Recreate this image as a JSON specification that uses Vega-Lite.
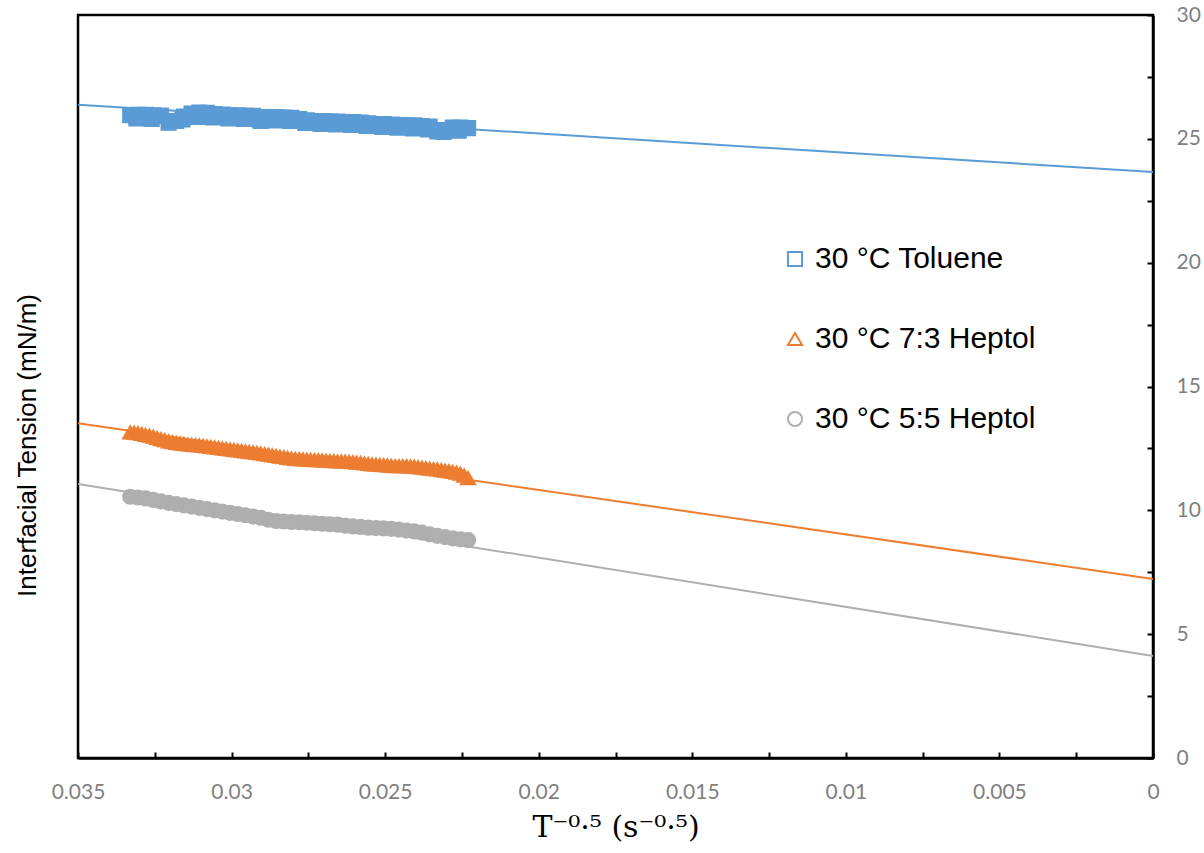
{
  "$schema": "https://vega.github.io/schema/vega-lite/v6.json",
  "width": 1075,
  "height": 743,
  "autosize": "none",
  "padding": {"left": 78, "top": 15, "right": 51, "bottom": 95},
  "background": "white",
  "config": {
    "view": {"stroke": "black", "strokeWidth": 2.5},
    "axis": {"grid": false, "domainColor": "black", "domainWidth": 2.5, "tickColor": "black", "tickWidth": 2, "tickSize": -6, "labelColor": "#7f7f7f", "labelFont": "Lato", "labelFontSize": 21, "labelPadding": 29, "labelFlush": false, "labelOverlap": false},
    "legend": {"labelLimit": 400}
  },
  "datasets": {
    "fits": [
      {"x": 0.035, "y": 26.38, "series": "30 °C Toluene"},
      {"x": 0, "y": 23.66, "series": "30 °C Toluene"},
      {"x": 0.035, "y": 13.52, "series": "30 °C 7:3 Heptol"},
      {"x": 0, "y": 7.23, "series": "30 °C 7:3 Heptol"},
      {"x": 0.035, "y": 11.06, "series": "30 °C 5:5 Heptol"},
      {"x": 0, "y": 4.12, "series": "30 °C 5:5 Heptol"}
    ],
    "points": [
      {"x": 0.0333, "y": 25.96, "series": "30 °C Toluene"},
      {"x": 0.03305, "y": 25.97, "series": "30 °C Toluene"},
      {"x": 0.0328, "y": 25.97, "series": "30 °C Toluene"},
      {"x": 0.03255, "y": 25.95, "series": "30 °C Toluene"},
      {"x": 0.0323, "y": 25.94, "series": "30 °C Toluene"},
      {"x": 0.03205, "y": 25.65, "series": "30 °C Toluene"},
      {"x": 0.0318, "y": 25.72, "series": "30 °C Toluene"},
      {"x": 0.03155, "y": 25.9, "series": "30 °C Toluene"},
      {"x": 0.0313, "y": 26.02, "series": "30 °C Toluene"},
      {"x": 0.03105, "y": 26.06, "series": "30 °C Toluene"},
      {"x": 0.0308, "y": 26.05, "series": "30 °C Toluene"},
      {"x": 0.03055, "y": 26.0, "series": "30 °C Toluene"},
      {"x": 0.0303, "y": 25.98, "series": "30 °C Toluene"},
      {"x": 0.03005, "y": 25.95, "series": "30 °C Toluene"},
      {"x": 0.0298, "y": 25.95, "series": "30 °C Toluene"},
      {"x": 0.02955, "y": 25.93, "series": "30 °C Toluene"},
      {"x": 0.0293, "y": 25.93, "series": "30 °C Toluene"},
      {"x": 0.02905, "y": 25.72, "series": "30 °C Toluene"},
      {"x": 0.0288, "y": 25.88, "series": "30 °C Toluene"},
      {"x": 0.02855, "y": 25.88, "series": "30 °C Toluene"},
      {"x": 0.0283, "y": 25.86, "series": "30 °C Toluene"},
      {"x": 0.02805, "y": 25.85, "series": "30 °C Toluene"},
      {"x": 0.0278, "y": 25.8, "series": "30 °C Toluene"},
      {"x": 0.02755, "y": 25.75, "series": "30 °C Toluene"},
      {"x": 0.0273, "y": 25.72, "series": "30 °C Toluene"},
      {"x": 0.02705, "y": 25.72, "series": "30 °C Toluene"},
      {"x": 0.0268, "y": 25.7, "series": "30 °C Toluene"},
      {"x": 0.02655, "y": 25.7, "series": "30 °C Toluene"},
      {"x": 0.0263, "y": 25.68, "series": "30 °C Toluene"},
      {"x": 0.02605, "y": 25.68, "series": "30 °C Toluene"},
      {"x": 0.0258, "y": 25.66, "series": "30 °C Toluene"},
      {"x": 0.02555, "y": 25.63, "series": "30 °C Toluene"},
      {"x": 0.0253, "y": 25.6, "series": "30 °C Toluene"},
      {"x": 0.02505, "y": 25.6, "series": "30 °C Toluene"},
      {"x": 0.0248, "y": 25.58, "series": "30 °C Toluene"},
      {"x": 0.02455, "y": 25.56, "series": "30 °C Toluene"},
      {"x": 0.0243, "y": 25.55, "series": "30 °C Toluene"},
      {"x": 0.02405, "y": 25.55, "series": "30 °C Toluene"},
      {"x": 0.0238, "y": 25.52, "series": "30 °C Toluene"},
      {"x": 0.02355, "y": 25.5, "series": "30 °C Toluene"},
      {"x": 0.0233, "y": 25.3, "series": "30 °C Toluene"},
      {"x": 0.02305, "y": 25.35, "series": "30 °C Toluene"},
      {"x": 0.0228, "y": 25.45, "series": "30 °C Toluene"},
      {"x": 0.02255, "y": 25.45, "series": "30 °C Toluene"},
      {"x": 0.0223, "y": 25.43, "series": "30 °C Toluene"},
      {"x": 0.0331, "y": 25.82, "series": "30 °C Toluene"},
      {"x": 0.0326, "y": 25.8, "series": "30 °C Toluene"},
      {"x": 0.0316, "y": 25.78, "series": "30 °C Toluene"},
      {"x": 0.0311, "y": 25.88, "series": "30 °C Toluene"},
      {"x": 0.0306, "y": 25.86, "series": "30 °C Toluene"},
      {"x": 0.0301, "y": 25.82, "series": "30 °C Toluene"},
      {"x": 0.0296, "y": 25.8, "series": "30 °C Toluene"},
      {"x": 0.0291, "y": 25.78, "series": "30 °C Toluene"},
      {"x": 0.0286, "y": 25.74, "series": "30 °C Toluene"},
      {"x": 0.0281, "y": 25.72, "series": "30 °C Toluene"},
      {"x": 0.0276, "y": 25.64, "series": "30 °C Toluene"},
      {"x": 0.0271, "y": 25.6, "series": "30 °C Toluene"},
      {"x": 0.0266, "y": 25.58, "series": "30 °C Toluene"},
      {"x": 0.0261, "y": 25.56, "series": "30 °C Toluene"},
      {"x": 0.0256, "y": 25.52, "series": "30 °C Toluene"},
      {"x": 0.0251, "y": 25.48, "series": "30 °C Toluene"},
      {"x": 0.0246, "y": 25.45, "series": "30 °C Toluene"},
      {"x": 0.0241, "y": 25.42, "series": "30 °C Toluene"},
      {"x": 0.0236, "y": 25.38, "series": "30 °C Toluene"},
      {"x": 0.0231, "y": 25.28, "series": "30 °C Toluene"},
      {"x": 0.0226, "y": 25.33, "series": "30 °C Toluene"},
      {"x": 0.0333, "y": 13.15, "series": "30 °C 7:3 Heptol"},
      {"x": 0.033175, "y": 13.14, "series": "30 °C 7:3 Heptol"},
      {"x": 0.03305, "y": 13.12, "series": "30 °C 7:3 Heptol"},
      {"x": 0.032925, "y": 13.09, "series": "30 °C 7:3 Heptol"},
      {"x": 0.0328, "y": 13.05, "series": "30 °C 7:3 Heptol"},
      {"x": 0.032675, "y": 13.02, "series": "30 °C 7:3 Heptol"},
      {"x": 0.03255, "y": 12.98, "series": "30 °C 7:3 Heptol"},
      {"x": 0.032425, "y": 12.93, "series": "30 °C 7:3 Heptol"},
      {"x": 0.0323, "y": 12.88, "series": "30 °C 7:3 Heptol"},
      {"x": 0.032175, "y": 12.83, "series": "30 °C 7:3 Heptol"},
      {"x": 0.03205, "y": 12.78, "series": "30 °C 7:3 Heptol"},
      {"x": 0.031925, "y": 12.75, "series": "30 °C 7:3 Heptol"},
      {"x": 0.0318, "y": 12.72, "series": "30 °C 7:3 Heptol"},
      {"x": 0.031675, "y": 12.7, "series": "30 °C 7:3 Heptol"},
      {"x": 0.03155, "y": 12.68, "series": "30 °C 7:3 Heptol"},
      {"x": 0.031425, "y": 12.66, "series": "30 °C 7:3 Heptol"},
      {"x": 0.0313, "y": 12.64, "series": "30 °C 7:3 Heptol"},
      {"x": 0.031175, "y": 12.63, "series": "30 °C 7:3 Heptol"},
      {"x": 0.03105, "y": 12.62, "series": "30 °C 7:3 Heptol"},
      {"x": 0.030925, "y": 12.6, "series": "30 °C 7:3 Heptol"},
      {"x": 0.0308, "y": 12.58, "series": "30 °C 7:3 Heptol"},
      {"x": 0.030675, "y": 12.56, "series": "30 °C 7:3 Heptol"},
      {"x": 0.03055, "y": 12.54, "series": "30 °C 7:3 Heptol"},
      {"x": 0.030425, "y": 12.52, "series": "30 °C 7:3 Heptol"},
      {"x": 0.0303, "y": 12.5, "series": "30 °C 7:3 Heptol"},
      {"x": 0.030175, "y": 12.48, "series": "30 °C 7:3 Heptol"},
      {"x": 0.03005, "y": 12.46, "series": "30 °C 7:3 Heptol"},
      {"x": 0.029925, "y": 12.44, "series": "30 °C 7:3 Heptol"},
      {"x": 0.0298, "y": 12.42, "series": "30 °C 7:3 Heptol"},
      {"x": 0.029675, "y": 12.4, "series": "30 °C 7:3 Heptol"},
      {"x": 0.02955, "y": 12.38, "series": "30 °C 7:3 Heptol"},
      {"x": 0.029425, "y": 12.36, "series": "30 °C 7:3 Heptol"},
      {"x": 0.0293, "y": 12.34, "series": "30 °C 7:3 Heptol"},
      {"x": 0.029175, "y": 12.32, "series": "30 °C 7:3 Heptol"},
      {"x": 0.02905, "y": 12.3, "series": "30 °C 7:3 Heptol"},
      {"x": 0.028925, "y": 12.27, "series": "30 °C 7:3 Heptol"},
      {"x": 0.0288, "y": 12.25, "series": "30 °C 7:3 Heptol"},
      {"x": 0.028675, "y": 12.22, "series": "30 °C 7:3 Heptol"},
      {"x": 0.02855, "y": 12.2, "series": "30 °C 7:3 Heptol"},
      {"x": 0.028425, "y": 12.17, "series": "30 °C 7:3 Heptol"},
      {"x": 0.0283, "y": 12.15, "series": "30 °C 7:3 Heptol"},
      {"x": 0.028175, "y": 12.12, "series": "30 °C 7:3 Heptol"},
      {"x": 0.02805, "y": 12.1, "series": "30 °C 7:3 Heptol"},
      {"x": 0.027925, "y": 12.08, "series": "30 °C 7:3 Heptol"},
      {"x": 0.0278, "y": 12.07, "series": "30 °C 7:3 Heptol"},
      {"x": 0.027675, "y": 12.06, "series": "30 °C 7:3 Heptol"},
      {"x": 0.02755, "y": 12.05, "series": "30 °C 7:3 Heptol"},
      {"x": 0.027425, "y": 12.04, "series": "30 °C 7:3 Heptol"},
      {"x": 0.0273, "y": 12.03, "series": "30 °C 7:3 Heptol"},
      {"x": 0.027175, "y": 12.03, "series": "30 °C 7:3 Heptol"},
      {"x": 0.02705, "y": 12.02, "series": "30 °C 7:3 Heptol"},
      {"x": 0.026925, "y": 12.01, "series": "30 °C 7:3 Heptol"},
      {"x": 0.0268, "y": 12.0, "series": "30 °C 7:3 Heptol"},
      {"x": 0.026675, "y": 11.99, "series": "30 °C 7:3 Heptol"},
      {"x": 0.02655, "y": 11.98, "series": "30 °C 7:3 Heptol"},
      {"x": 0.026425, "y": 11.98, "series": "30 °C 7:3 Heptol"},
      {"x": 0.0263, "y": 11.97, "series": "30 °C 7:3 Heptol"},
      {"x": 0.026175, "y": 11.96, "series": "30 °C 7:3 Heptol"},
      {"x": 0.02605, "y": 11.95, "series": "30 °C 7:3 Heptol"},
      {"x": 0.025925, "y": 11.93, "series": "30 °C 7:3 Heptol"},
      {"x": 0.0258, "y": 11.92, "series": "30 °C 7:3 Heptol"},
      {"x": 0.025675, "y": 11.9, "series": "30 °C 7:3 Heptol"},
      {"x": 0.02555, "y": 11.88, "series": "30 °C 7:3 Heptol"},
      {"x": 0.025425, "y": 11.86, "series": "30 °C 7:3 Heptol"},
      {"x": 0.0253, "y": 11.85, "series": "30 °C 7:3 Heptol"},
      {"x": 0.025175, "y": 11.84, "series": "30 °C 7:3 Heptol"},
      {"x": 0.02505, "y": 11.83, "series": "30 °C 7:3 Heptol"},
      {"x": 0.024925, "y": 11.82, "series": "30 °C 7:3 Heptol"},
      {"x": 0.0248, "y": 11.8, "series": "30 °C 7:3 Heptol"},
      {"x": 0.024675, "y": 11.79, "series": "30 °C 7:3 Heptol"},
      {"x": 0.02455, "y": 11.78, "series": "30 °C 7:3 Heptol"},
      {"x": 0.024425, "y": 11.78, "series": "30 °C 7:3 Heptol"},
      {"x": 0.0243, "y": 11.78, "series": "30 °C 7:3 Heptol"},
      {"x": 0.024175, "y": 11.77, "series": "30 °C 7:3 Heptol"},
      {"x": 0.02405, "y": 11.76, "series": "30 °C 7:3 Heptol"},
      {"x": 0.023925, "y": 11.74, "series": "30 °C 7:3 Heptol"},
      {"x": 0.0238, "y": 11.72, "series": "30 °C 7:3 Heptol"},
      {"x": 0.023675, "y": 11.7, "series": "30 °C 7:3 Heptol"},
      {"x": 0.02355, "y": 11.68, "series": "30 °C 7:3 Heptol"},
      {"x": 0.023425, "y": 11.66, "series": "30 °C 7:3 Heptol"},
      {"x": 0.0233, "y": 11.65, "series": "30 °C 7:3 Heptol"},
      {"x": 0.023175, "y": 11.62, "series": "30 °C 7:3 Heptol"},
      {"x": 0.02305, "y": 11.6, "series": "30 °C 7:3 Heptol"},
      {"x": 0.022925, "y": 11.58, "series": "30 °C 7:3 Heptol"},
      {"x": 0.0228, "y": 11.55, "series": "30 °C 7:3 Heptol"},
      {"x": 0.022675, "y": 11.52, "series": "30 °C 7:3 Heptol"},
      {"x": 0.02255, "y": 11.48, "series": "30 °C 7:3 Heptol"},
      {"x": 0.022425, "y": 11.4, "series": "30 °C 7:3 Heptol"},
      {"x": 0.0223, "y": 11.3, "series": "30 °C 7:3 Heptol"},
      {"x": 0.0333, "y": 10.55, "series": "30 °C 5:5 Heptol"},
      {"x": 0.03305, "y": 10.52, "series": "30 °C 5:5 Heptol"},
      {"x": 0.0328, "y": 10.48, "series": "30 °C 5:5 Heptol"},
      {"x": 0.03255, "y": 10.42, "series": "30 °C 5:5 Heptol"},
      {"x": 0.0323, "y": 10.36, "series": "30 °C 5:5 Heptol"},
      {"x": 0.03205, "y": 10.3, "series": "30 °C 5:5 Heptol"},
      {"x": 0.0318, "y": 10.25, "series": "30 °C 5:5 Heptol"},
      {"x": 0.03155, "y": 10.2, "series": "30 °C 5:5 Heptol"},
      {"x": 0.0313, "y": 10.15, "series": "30 °C 5:5 Heptol"},
      {"x": 0.03105, "y": 10.1, "series": "30 °C 5:5 Heptol"},
      {"x": 0.0308, "y": 10.05, "series": "30 °C 5:5 Heptol"},
      {"x": 0.03055, "y": 10.0, "series": "30 °C 5:5 Heptol"},
      {"x": 0.0303, "y": 9.95, "series": "30 °C 5:5 Heptol"},
      {"x": 0.03005, "y": 9.9, "series": "30 °C 5:5 Heptol"},
      {"x": 0.0298, "y": 9.85, "series": "30 °C 5:5 Heptol"},
      {"x": 0.02955, "y": 9.8, "series": "30 °C 5:5 Heptol"},
      {"x": 0.0293, "y": 9.75, "series": "30 °C 5:5 Heptol"},
      {"x": 0.02905, "y": 9.7, "series": "30 °C 5:5 Heptol"},
      {"x": 0.0288, "y": 9.62, "series": "30 °C 5:5 Heptol"},
      {"x": 0.02855, "y": 9.57, "series": "30 °C 5:5 Heptol"},
      {"x": 0.0283, "y": 9.55, "series": "30 °C 5:5 Heptol"},
      {"x": 0.02805, "y": 9.53, "series": "30 °C 5:5 Heptol"},
      {"x": 0.0278, "y": 9.52, "series": "30 °C 5:5 Heptol"},
      {"x": 0.02755, "y": 9.5, "series": "30 °C 5:5 Heptol"},
      {"x": 0.0273, "y": 9.48, "series": "30 °C 5:5 Heptol"},
      {"x": 0.02705, "y": 9.46, "series": "30 °C 5:5 Heptol"},
      {"x": 0.0268, "y": 9.44, "series": "30 °C 5:5 Heptol"},
      {"x": 0.02655, "y": 9.42, "series": "30 °C 5:5 Heptol"},
      {"x": 0.0263, "y": 9.38, "series": "30 °C 5:5 Heptol"},
      {"x": 0.02605, "y": 9.35, "series": "30 °C 5:5 Heptol"},
      {"x": 0.0258, "y": 9.33, "series": "30 °C 5:5 Heptol"},
      {"x": 0.02555, "y": 9.3, "series": "30 °C 5:5 Heptol"},
      {"x": 0.0253, "y": 9.28, "series": "30 °C 5:5 Heptol"},
      {"x": 0.02505, "y": 9.27, "series": "30 °C 5:5 Heptol"},
      {"x": 0.0248, "y": 9.25, "series": "30 °C 5:5 Heptol"},
      {"x": 0.02455, "y": 9.22, "series": "30 °C 5:5 Heptol"},
      {"x": 0.0243, "y": 9.18, "series": "30 °C 5:5 Heptol"},
      {"x": 0.02405, "y": 9.15, "series": "30 °C 5:5 Heptol"},
      {"x": 0.0238, "y": 9.1, "series": "30 °C 5:5 Heptol"},
      {"x": 0.02355, "y": 9.03, "series": "30 °C 5:5 Heptol"},
      {"x": 0.0233, "y": 8.97, "series": "30 °C 5:5 Heptol"},
      {"x": 0.02305, "y": 8.92, "series": "30 °C 5:5 Heptol"},
      {"x": 0.0228, "y": 8.87, "series": "30 °C 5:5 Heptol"},
      {"x": 0.02255, "y": 8.83, "series": "30 °C 5:5 Heptol"},
      {"x": 0.0223, "y": 8.8, "series": "30 °C 5:5 Heptol"}
    ]
  },
  "resolve": {"axis": {"y": "independent"}},
  "layer": [
    {
      "data": {"name": "fits"},
      "mark": {"type": "line", "strokeWidth": 2},
      "encoding": {
        "x": {"field": "x", "type": "quantitative", "scale": {"domain": [0, 0.035], "reverse": true, "nice": false, "zero": false},
          "axis": {"orient": "bottom", "values": [0, 0.0025, 0.005, 0.0075, 0.01, 0.0125, 0.015, 0.0175, 0.02, 0.0225, 0.025, 0.0275, 0.03, 0.0325, 0.035],
            "labelExpr": "abs(datum.value*200 - round(datum.value*200)) < 1e-6 ? format(datum.value, '~g') : ''",
            "title": "T⁻⁰·⁵ (s⁻⁰·⁵)", "titleFont": "DejaVu Serif", "titleFontSize": 30, "titleFontWeight": "normal", "titleColor": "black", "titlePadding": 10}},
        "y": {"field": "y", "type": "quantitative", "scale": {"domain": [0, 30], "nice": false},
          "axis": {"orient": "left", "title": "Interfacial Tension (mN/m)", "labels": false, "ticks": false, "domain": false,
            "titleFont": "Liberation Sans", "titleFontSize": 26, "titleFontWeight": "normal", "titleColor": "black",
            "titleX": -51, "titleY": 430, "titleAngle": -90, "titleBaseline": "middle", "titleAlign": "center"}},
        "stroke": {"field": "series", "type": "nominal",
          "scale": {"domain": ["30 °C Toluene", "30 °C 7:3 Heptol", "30 °C 5:5 Heptol"], "range": ["#5B9BD5", "#ED7D31", "#AFAFAF"]},
          "legend": {"orient": "none", "legendX": 702, "legendY": 229, "title": null, "padding": 0,
            "labelFont": "Liberation Sans", "labelFontSize": 30, "labelColor": "black", "labelOffset": 5, "labelLimit": 400,
            "symbolSize": 200, "symbolStrokeWidth": 2, "rowPadding": 50}}
      }
    },
    {
      "data": {"name": "points"},
      "transform": [{"filter": {"field": "series", "equal": "30 °C Toluene"}}],
      "mark": {"type": "point", "shape": "square", "filled": true, "color": "#5B9BD5", "size": 210, "opacity": 1},
      "encoding": {"x": {"field": "x", "type": "quantitative"}, "y": {"field": "y", "type": "quantitative", "axis": null}}
    },
    {
      "data": {"name": "points"},
      "transform": [{"filter": {"field": "series", "equal": "30 °C 7:3 Heptol"}}],
      "mark": {"type": "point", "shape": "triangle-up", "filled": true, "color": "#ED7D31", "size": 210, "opacity": 1},
      "encoding": {"x": {"field": "x", "type": "quantitative"}, "y": {"field": "y", "type": "quantitative", "axis": null}}
    },
    {
      "data": {"name": "points"},
      "transform": [{"filter": {"field": "series", "equal": "30 °C 5:5 Heptol"}}],
      "mark": {"type": "point", "shape": "circle", "filled": true, "color": "#AFAFAF", "size": 210, "opacity": 1},
      "encoding": {"x": {"field": "x", "type": "quantitative"}, "y": {"field": "y", "type": "quantitative", "axis": null}}
    },
    {
      "data": {"name": "points"},
      "mark": {"type": "point", "filled": false, "size": 200, "strokeWidth": 2, "opacity": 1},
      "encoding": {
        "x": {"field": "x", "type": "quantitative"},
        "y": {"field": "y", "type": "quantitative",
          "axis": {"orient": "right", "title": null, "values": [0, 2.5, 5, 7.5, 10, 12.5, 15, 17.5, 20, 22.5, 25, 27.5, 30],
            "labelExpr": "datum.value % 5 == 0 ? datum.label : ''", "labelAlign": "left"}},
        "color": {"field": "series", "type": "nominal",
          "scale": {"domain": ["30 °C Toluene", "30 °C 7:3 Heptol", "30 °C 5:5 Heptol"], "range": ["#5B9BD5", "#ED7D31", "#AFAFAF"]},
          "legend": {"orient": "none", "legendX": 702, "legendY": 229, "title": null, "padding": 0,
            "labelFont": "Liberation Sans", "labelFontSize": 30, "labelColor": "black", "labelOffset": 5, "labelLimit": 400,
            "symbolSize": 200, "symbolStrokeWidth": 2, "rowPadding": 50}},
        "shape": {"field": "series", "type": "nominal",
          "scale": {"domain": ["30 °C Toluene", "30 °C 7:3 Heptol", "30 °C 5:5 Heptol"], "range": ["square", "triangle-up", "circle"]}}
      }
    }
  ]
}
